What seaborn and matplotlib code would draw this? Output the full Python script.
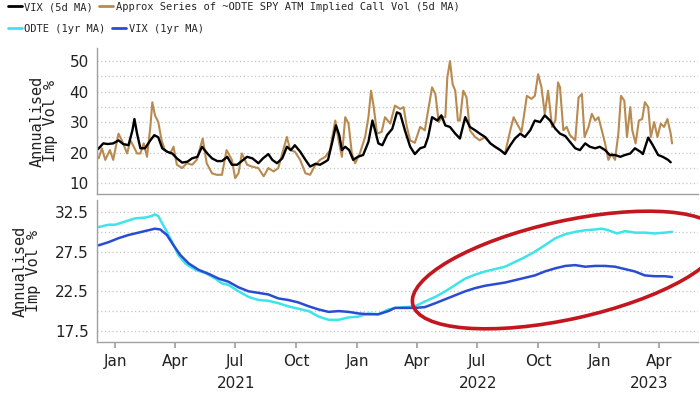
import pandas as pd
import matplotlib
matplotlib.use('Agg')
import matplotlib.pyplot as plt
import matplotlib.dates as mdates
import matplotlib.transforms as mtransforms
from matplotlib.patches import Ellipse
from matplotlib.lines import Line2D
import seaborn as sns

# ---- data (days counted from 2021-01-01, values in vol %) ----
vix5_days = [-26, -18, -11, -3, 5, 12, 20, 26, 29, 33,
             38, 45, 53, 59, 65, 71, 78, 86, 93, 101,
             109, 116, 124, 131, 139, 146, 154, 161, 169, 176,
             184, 192, 199, 207, 216, 223, 231, 237, 244, 252,
             259, 265, 271, 279, 287, 294, 302, 309, 317, 321,
             327, 333, 338, 342, 347, 353, 359, 366, 374, 382,
             388, 392, 397, 403, 410, 418, 425, 430, 437, 445,
             452, 460, 467, 472, 478, 486, 492, 498, 505, 513,
             520, 528, 535, 543, 550, 558, 566, 573, 581, 588,
             596, 603, 611, 618, 626, 633, 641, 648, 656, 664,
             671, 679, 686, 694, 701, 709, 716, 724, 731, 739,
             746, 754, 762, 769, 777, 784, 792, 796, 804, 811,
             819, 826, 834, 838]
vix5_vals = [21.1, 23, 22.8, 23, 24, 22.8, 22.4, 27.3, 31, 26.2,
             21.4, 21.4, 24, 25.7, 25, 21.4, 20.3, 19.7, 18.1, 16.7,
             17, 18.1, 18.6, 21.9, 19.7, 18.1, 17.2, 17.2, 18.6, 16,
             16, 17.4, 18.6, 18.1, 16.5, 18.1, 19.5, 17.6, 16.5, 18.1,
             21.9, 20.8, 22.4, 20.3, 17.6, 15.4, 16.3, 16, 17, 17.6,
             23, 28.9, 25.7, 20.8, 21.9, 20.8, 17.6, 18.6, 19.2, 23.5,
             30.5, 27.3, 23, 22.4, 25.7, 27.8, 33.2, 32.7, 27.3, 21.9,
             19.5, 21.4, 21.9, 25.1, 31.6, 30.5, 32.2, 28.9, 28.4, 26.2,
             24.6, 31.6, 28.4, 27.3, 26.2, 25.1, 23, 21.9, 20.8, 19.5,
             22.4, 24.6, 26.2, 25.1, 27.3, 30.5, 30, 32.2, 30.5, 27.8,
             26.2, 25.4, 23.5, 21.4, 20.8, 23, 21.9, 21.4, 21.9, 20.8,
             19.2, 19.2, 18.6, 19.2, 19.7, 21.4, 20.3, 19.5, 24.9, 22.4,
             19.2, 18.6, 17.6, 16.8]

odte5_days = [-25, -20, -15, -8, -3, 5, 10, 18, 23, 28,
              33, 38, 43, 48, 53, 56, 60, 65, 70, 75,
              83, 88, 93, 101, 108, 116, 123, 132, 138, 146,
              153, 161, 168, 176, 181, 186, 191, 199, 206, 216,
              224, 231, 239, 246, 252, 259, 264, 271, 279, 287,
              294, 302, 309, 317, 324, 332, 337, 342, 347, 352,
              357, 362, 369, 377, 382, 386, 390, 395, 402, 407,
              415, 422, 430, 435, 440, 445, 452, 460, 467, 472,
              478, 483, 488, 493, 498, 501, 505, 509, 513, 517,
              520, 525, 530, 535, 543, 550, 558, 566, 573, 581,
              588, 596, 601, 606, 613, 621, 628, 633, 638, 643,
              648, 653, 659, 664, 668, 671, 676, 681, 686, 694,
              699, 704, 708, 714, 719, 724, 729, 734, 739, 744,
              749, 754, 759, 763, 768, 772, 777, 780, 785, 790,
              795, 799, 804, 808, 813, 818, 823, 828, 833, 838,
              840]
odte5_vals = [18.1, 21.4, 17.6, 20.8, 17.6, 26.2, 24, 19.7, 24, 21.9,
              19.7, 19.7, 23, 18.6, 28.4, 36.5, 32.2, 30, 24, 20.8,
              19.7, 21.9, 16, 14.9, 16.5, 16, 17.6, 24.6, 16.5, 13.2,
              12.7, 12.7, 20.8, 17.6, 11.6, 13.2, 19.7, 16, 15.4, 14.9,
              12.2, 14.9, 13.8, 14.9, 19.7, 25.1, 20.8, 20.3, 17.6, 13.2,
              12.7, 16, 17.6, 18.6, 20.8, 30.5, 24, 18.6, 31.6, 29.5,
              19.7, 16.5, 19.7, 25.1, 31.6, 40.3, 34.9, 26.2, 26.8, 31.6,
              29.5, 35.4, 34.3, 34.9, 28.4, 24, 23.2, 28.4, 27.3, 33.8,
              41.4, 39.2, 30, 31.6, 31.6, 44.6, 50, 42.4, 40.3, 30.5,
              30.5, 40.3, 38.1, 27.3, 25.1, 24, 25.1, 23, 21.9, 20.8,
              19.7, 27.3, 31.6, 29.5, 26.8, 38.6, 37.6, 38.6, 45.7, 41.4,
              32.7, 40.3, 28.4, 30.5, 43, 41.4, 27.3, 28.4, 25.7, 24,
              38.1, 39.2, 25.1, 28.4, 32.7, 30.5, 31.6, 27.3, 23, 17.6,
              19.7, 17.6, 26.2, 38.6, 37, 25.1, 34.9, 27.3, 23, 30.5,
              31, 36.5, 34.9, 25.1, 30, 25.1, 29.5, 28.4, 31, 26.2,
              23]

odte1y_days = [-25, -10, 0, 15, 30, 45, 55, 60, 65, 70,
               78, 86, 95, 106, 121, 136, 151, 161, 171, 186,
               201, 216, 231, 246, 261, 276, 292, 307, 322, 337,
               352, 367, 382, 397, 412, 422, 437, 452, 467, 483,
               498, 513, 528, 543, 558, 573, 588, 603, 618, 633,
               648, 664, 679, 694, 709, 724, 734, 744, 757, 769,
               784, 799, 814, 829, 840]
odte1y_vals = [30.6, 30.9, 30.9, 31.3, 31.7, 31.8, 32, 32.2, 32, 31.2,
               30, 28.7, 27.1, 26, 25.2, 24.8, 24.1, 23.5, 23.3, 22.5,
               21.8, 21.4, 21.3, 21, 20.6, 20.3, 20, 19.3, 18.9, 18.9,
               19.2, 19.3, 19.7, 19.6, 20.2, 20.4, 20.5, 20.6, 21.2, 21.8,
               22.5, 23.3, 24.1, 24.6, 25, 25.3, 25.6, 26.2, 26.8, 27.5,
               28.3, 29.2, 29.7, 30, 30.2, 30.3, 30.4, 30.2, 29.8, 30.1,
               29.9, 29.9, 29.8, 29.9, 30]

vix1y_days = [-25, -10, 5, 20, 35, 50, 60, 68, 78, 88,
              98, 111, 126, 141, 156, 171, 186, 201, 216, 231,
              246, 261, 276, 292, 307, 322, 337, 352, 367, 382,
              397, 412, 422, 437, 452, 467, 483, 498, 513, 528,
              543, 558, 573, 588, 603, 618, 633, 648, 664, 679,
              694, 709, 724, 739, 754, 769, 784, 799, 814, 829,
              840]
vix1y_vals = [28.3, 28.7, 29.2, 29.6, 29.9, 30.2, 30.4, 30.3, 29.6, 28.3,
              27.1, 26, 25.2, 24.7, 24.1, 23.7, 23, 22.5, 22.3, 22.1,
              21.6, 21.4, 21.1, 20.6, 20.2, 19.9, 20, 19.9, 19.7, 19.6,
              19.6, 20, 20.4, 20.4, 20.4, 20.5, 21, 21.5, 22, 22.5,
              22.9, 23.2, 23.4, 23.6, 23.9, 24.2, 24.5, 25, 25.4, 25.7,
              25.8, 25.6, 25.7, 25.7, 25.6, 25.3, 25, 24.5, 24.4, 24.4,
              24.3]

year_labels = ['2021', '2022', '2023']
year_label_dates = ['2021-07-02', '2022-07-02', '2023-03-17']

BLACK = '#000000'
TAN = '#b98a50'
CYAN = '#3fe3ea'
BLUE = '#2a4cd2'
RED = '#c3161e'
GRID = '#c4c4c4'
SPINE = '#a0a0a0'

base = pd.Timestamp('2021-01-01')


def frame(days, vals):
    return pd.DataFrame({'date': base + pd.to_timedelta(days, unit='D'), 'vol': vals})


sns.set_theme(style='white')
plt.rcParams['font.family'] = ['DejaVu Sans']
mono = 'DejaVu Sans Mono'

fig = plt.figure(figsize=(7, 3.94), dpi=100)
ax1 = fig.add_axes([0.139, 0.5076, 0.858, 0.3706])
ax2 = fig.add_axes([0.139, 0.132, 0.858, 0.360])

# top panel: 5d MAs
sns.lineplot(data=frame(odte5_days, odte5_vals), x='date', y='vol', ax=ax1, color=TAN, lw=1.5)
sns.lineplot(data=frame(vix5_days, vix5_vals), x='date', y='vol', ax=ax1, color=BLACK, lw=1.7)

# bottom panel: 1yr MAs
sns.lineplot(data=frame(odte1y_days, odte1y_vals), x='date', y='vol', ax=ax2, color=CYAN, lw=1.8)
sns.lineplot(data=frame(vix1y_days, vix1y_vals), x='date', y='vol', ax=ax2, color=BLUE, lw=1.8)

xlim = (pd.Timestamp('2020-12-05'), pd.Timestamp('2023-05-30'))
for ax in (ax1, ax2):
    ax.set_xlim(*xlim)
    ax.set_xlabel('')
    for s in ('top', 'right'):
        ax.spines[s].set_visible(False)
    for s in ('left', 'bottom'):
        ax.spines[s].set_color(SPINE)
        ax.spines[s].set_linewidth(1.0)
    ax.yaxis.grid(True, which='both', linestyle=(0, (1, 2)), color=GRID, lw=0.9)
    ax.tick_params(axis='y', which='both', length=0, pad=6, labelsize=11, colors='#222222')

ax1.set_ylim(6.4, 54.3)
ax1.set_yticks([10, 20, 30, 40, 50])
ax1.set_yticks([15, 25, 35, 45], minor=True)
ax1.tick_params(axis='x', bottom=False, labelbottom=False)

ax2.set_ylim(16.1, 34.0)
ax2.set_yticks([17.5, 22.5, 27.5, 32.5])
ax2.set_yticks([20, 25, 30], minor=True)
ax2.xaxis.set_major_locator(mdates.MonthLocator(bymonth=[1, 4, 7, 10]))
ax2.xaxis.set_major_formatter(mdates.DateFormatter('%b'))
ax2.tick_params(axis='x', bottom=True, length=4, color=SPINE, direction='out', pad=5,
                labelsize=11, labelcolor='#222222')

trans = mtransforms.blended_transform_factory(ax2.transData, ax2.transAxes)
for lab, d in zip(year_labels, year_label_dates):
    ax2.text(mdates.date2num(pd.Timestamp(d)), -0.29, lab, transform=trans,
             ha='center', va='center', fontsize=11, color='#222222')

for ax, xc in ((ax1, -0.089), (ax2, -0.117)):
    ax.set_ylabel('Annualised\nImp Vol %', fontfamily=mono, fontsize=11,
                  linespacing=0.9, va='center', color='#222222')
    ax.yaxis.set_label_coords(xc, 0.5)

# legends (two rows at the very top)
leg_kw = dict(loc='center left', ncol=2, frameon=False, borderpad=0, borderaxespad=0,
              handlelength=1.35, handletextpad=0.25, columnspacing=0.6,
              prop={'family': mono, 'size': 7.5})
row1 = [Line2D([], [], color=BLACK, lw=2), Line2D([], [], color=TAN, lw=2)]
fig.legend(row1, ['VIX (5d MA)', 'Approx Series of ~ODTE SPY ATM Implied Call Vol (5d MA)'],
           bbox_to_anchor=(0.011, 1 - 7 / 394), **leg_kw)
row2 = [Line2D([], [], color=CYAN, lw=2), Line2D([], [], color=BLUE, lw=2)]
fig.legend(row2, ['ODTE (1yr MA)', 'VIX (1yr MA)'],
           bbox_to_anchor=(0.011, 1 - 29 / 394), **leg_kw)

# red highlight ellipse around the 2022-23 divergence
fig.add_artist(Ellipse((5.67, 1.24), 3.16, 0.98, angle=12.5, transform=fig.dpi_scale_trans,
                       fill=False, edgecolor=RED, lw=2.6, clip_on=False))

fig.savefig('out.png', dpi=100)
